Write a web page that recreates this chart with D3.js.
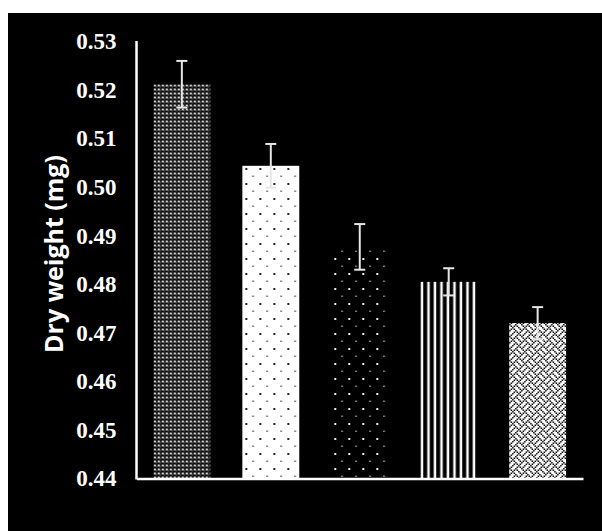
<!DOCTYPE html>
<html>
<head>
<meta charset="utf-8">
<script src="https://cdn.jsdelivr.net/npm/d3@7"></script>
<style>
  html, body { margin: 0; padding: 0; background: #fff; }
  svg { display: block; }
</style>
</head>
<body>
<div id="container"></div>
<script>
// data
const treatments = ["T1", "T2", "T3", "T4", "T5"];
const dryWeight = [0.5212, 0.5044, 0.4877, 0.4805, 0.4720];
const errors = [0.0048, 0.0045, 0.0047, 0.0028, 0.0033];
const yTicks = [0.44, 0.45, 0.46, 0.47, 0.48, 0.49, 0.50, 0.51, 0.52, 0.53];
const patterns = ["p-dense", "p-white-dots", "p-black-dots", "p-stripes", "p-weave"];

const w = 602;
const h = 531;

const svg = d3.select('#container').append('svg')
    .attr('width', w)
    .attr('height', h);

svg.append('rect')
    .attr('x', 8)
    .attr('y', 13)
    .attr('width', w - 8)
    .attr('height', h - 13)
    .attr('fill', '#000');

const xScale = d3.scaleBand()
    .domain(treatments)
    .range([136.5, 583])
    .paddingInner(0.36)
    .paddingOuter(0.19);

const yScale = d3.scaleLinear()
    .domain([0.44, 0.53])
    .range([478.5, 41.5]);

// fill patterns
const defs = svg.append('defs');

const p1 = defs.append('pattern')
    .attr('id', 'p-dense')
    .attr('patternUnits', 'userSpaceOnUse')
    .attr('x', xScale("T1"))
    .attr('width', 4).attr('height', 4);
p1.append('rect').attr('width', 4).attr('height', 4).attr('fill', '#000');
p1.append('rect').attr('x', 0.5).attr('y', 0.5).attr('width', 2).attr('height', 2).attr('fill', '#fff');
p1.append('rect').attr('x', 2.5).attr('y', 2.5).attr('width', 1).attr('height', 1).attr('fill', '#aaa');

const p2 = defs.append('pattern')
    .attr('id', 'p-white-dots')
    .attr('patternUnits', 'userSpaceOnUse')
    .attr('x', xScale("T2"))
    .attr('width', 14).attr('height', 15);
p2.append('rect').attr('width', 14).attr('height', 15).attr('fill', '#fff');
p2.append('rect').attr('x', 3).attr('y', 3).attr('width', 2).attr('height', 2).attr('fill', '#222');
p2.append('rect').attr('x', 10).attr('y', 10.5).attr('width', 1.5).attr('height', 1.5).attr('fill', '#555');

const p3 = defs.append('pattern')
    .attr('id', 'p-black-dots')
    .attr('patternUnits', 'userSpaceOnUse')
    .attr('x', xScale("T3"))
    .attr('width', 14).attr('height', 15);
p3.append('rect').attr('width', 14).attr('height', 15).attr('fill', '#000');
p3.append('rect').attr('x', 3).attr('y', 3).attr('width', 2).attr('height', 2).attr('fill', '#eee');
p3.append('rect').attr('x', 10).attr('y', 10.5).attr('width', 1.5).attr('height', 1.5).attr('fill', '#aaa');

const p4 = defs.append('pattern')
    .attr('id', 'p-stripes')
    .attr('patternUnits', 'userSpaceOnUse')
    .attr('x', xScale("T4"))
    .attr('width', 6.5).attr('height', 10);
p4.append('rect').attr('width', 6.5).attr('height', 10).attr('fill', '#000');
p4.append('rect').attr('x', 0.5).attr('width', 2.5).attr('height', 10).attr('fill', '#fff');

// weave bitmap, 8x8 cells
const weaveRows = [
    "X...X...",
    ".X.X.X..",
    "..X...X.",
    ".X.X...X",
    "X...X...",
    "...X.X.X",
    "..X...X.",
    ".X...X.X"
];
const cell = 1.5;
const p5 = defs.append('pattern')
    .attr('id', 'p-weave')
    .attr('patternUnits', 'userSpaceOnUse')
    .attr('x', xScale("T5"))
    .attr('width', 8 * cell).attr('height', 8 * cell);
p5.append('rect').attr('width', 8 * cell).attr('height', 8 * cell).attr('fill', '#fff');
weaveRows.forEach((row, r) => {
    row.split('').forEach((c, k) => {
        if (c === 'X') {
            p5.append('rect')
                .attr('x', k * cell).attr('y', r * cell)
                .attr('width', cell).attr('height', cell)
                .attr('fill', '#000');
        }
    });
});

// bars
svg.selectAll('.bar')
    .data(dryWeight)
    .enter()
    .append('rect')
    .attr('class', 'bar')
    .attr('x', (d, i) => xScale(treatments[i]))
    .attr('y', d => yScale(d))
    .attr('width', xScale.bandwidth())
    .attr('height', d => yScale(0.44) - yScale(d))
    .attr('fill', (d, i) => `url(#${patterns[i]})`);

// error bars
const errG = svg.append('g')
    .attr('stroke', '#e6e6e6')
    .attr('stroke-width', 2);

dryWeight.forEach((d, i) => {
    const cx = xScale(treatments[i]) + xScale.bandwidth() / 2;
    const top = yScale(d + errors[i]);
    const bottom = yScale(d - errors[i]);
    errG.append('line')
        .attr('x1', cx).attr('x2', cx)
        .attr('y1', top).attr('y2', bottom);
    errG.append('line')
        .attr('x1', cx - 5.5).attr('x2', cx + 5.5)
        .attr('y1', top).attr('y2', top);
    errG.append('line')
        .attr('x1', cx - 5.5).attr('x2', cx + 5.5)
        .attr('y1', bottom).attr('y2', bottom);
});

// axes
const yAxis = d3.axisLeft(yScale)
    .tickValues(yTicks)
    .tickSize(0)
    .tickPadding(20)
    .tickFormat(d3.format('.2f'));

const yG = svg.append('g')
    .attr('transform', 'translate(136.5,0)')
    .call(yAxis);
yG.select('.domain').remove();
yG.selectAll('text')
    .attr('fill', '#fff')
    .style('font-family', '"Liberation Serif", "Times New Roman", serif')
    .style('font-weight', 'bold')
    .style('font-size', '23px');

svg.append('line')
    .attr('x1', 136.5).attr('x2', 136.5)
    .attr('y1', 41).attr('y2', 479.5)
    .attr('stroke', '#fff').attr('stroke-width', 2.5);

const xAxis = d3.axisBottom(xScale)
    .tickSize(0)
    .tickFormat('');

const xG = svg.append('g')
    .attr('transform', 'translate(0,478.5)')
    .call(xAxis);
xG.select('.domain')
    .attr('stroke', '#fff')
    .attr('stroke-width', 2.5);

svg.append('text')
    .attr('transform', 'translate(63,254) rotate(-90)')
    .attr('text-anchor', 'middle')
    .attr('fill', '#fff')
    .style('font-family', '"Open Sans", sans-serif')
    .style('font-weight', 'bold')
    .style('font-size', '25px')
    .text('Dry weight (mg)');
</script>
</body>
</html>
